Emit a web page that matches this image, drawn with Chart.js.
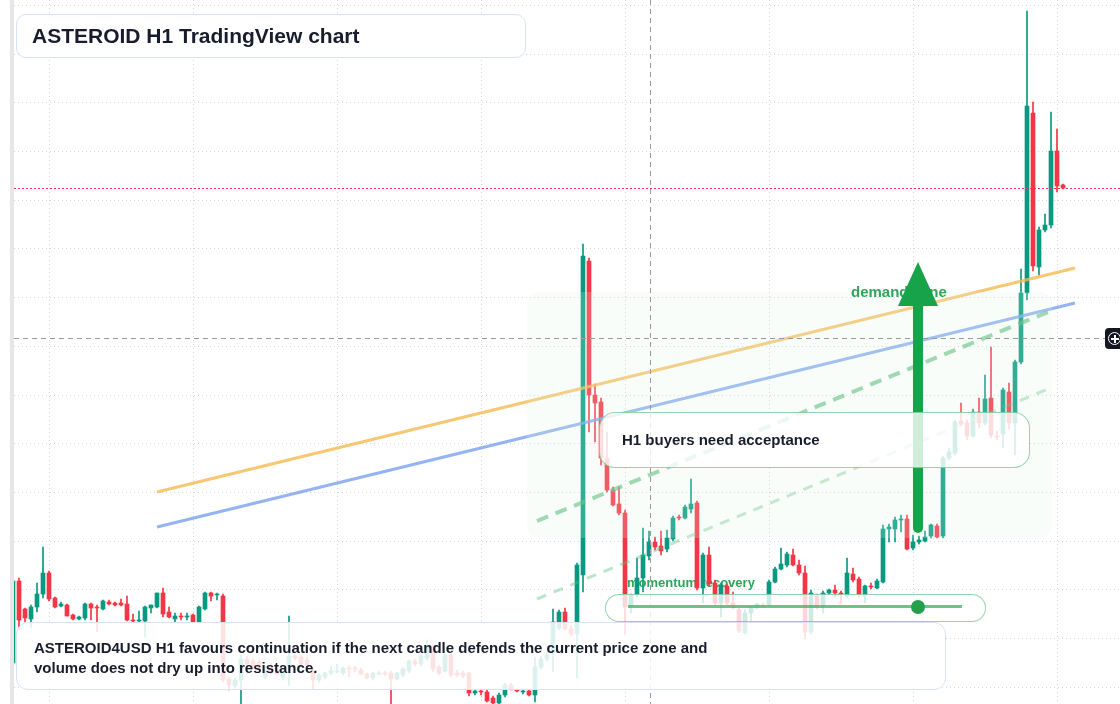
<!DOCTYPE html>
<html>
<head>
<meta charset="utf-8">
<title>ASTEROID H1 TradingView chart</title>
<script src="https://cdn.jsdelivr.net/npm/chart.js@4.4.1/dist/chart.umd.min.js"></script>
<style>
  html, body { margin: 0; padding: 0; background: #fff; }
  body { width: 1120px; height: 704px; position: relative; overflow: hidden; font-family: "Liberation Sans", Arial, sans-serif; }
  #chart { position: absolute; left: 0; top: 0; }
  .strip { position: absolute; left: 10px; top: 0; width: 4px; height: 704px; background: #e6e6e6; }
  .box { position: absolute; box-sizing: border-box; color: #171d2c; font-weight: bold; }
  .title { left: 16px; top: 14px; width: 510px; height: 44px; border: 1.5px solid #d6e3f7; border-radius: 10px;
           background: rgba(255,255,255,0.94); font-size: 21px; line-height: 41px; padding-left: 15px; }
  .note { left: 16px; top: 622px; width: 930px; height: 68px; border: 1.5px solid #d6e3f7; border-radius: 12px;
          background: rgba(255,255,255,0.86); font-size: 15px; line-height: 20px; padding: 15px 0 0 17px; }
  .buyers { left: 599px; top: 412px; width: 431px; height: 56px; border: 1.5px solid rgba(46,170,90,0.5); border-radius: 16px;
            background: rgba(255,255,255,0.8); font-size: 15px; line-height: 53px; padding-left: 22px; }
  .pill { left: 605px; top: 594px; width: 381px; height: 28px; border: 1.5px solid rgba(46,170,90,0.5); border-radius: 14px;
          background: rgba(255,255,255,0.8); }
  .pill .track { position: absolute; left: 22px; top: 10px; width: 334px; height: 3px; background: rgba(60,175,95,0.75); }
  .pill .dot { position: absolute; left: 305px; top: 4.5px; width: 14px; height: 14px; border-radius: 50%; background: #22a04b; }
  .cross { position: absolute; left: 1105px; top: 328px; width: 24px; height: 21px; background: #131722; border-radius: 4px; }
  .cross .ring { position: absolute; left: 3px; top: 3.5px; width: 11px; height: 11px; border: 1.5px solid #fff; border-radius: 50%; }
  .cross .h { position: absolute; left: 6px; top: 10px; width: 8px; height: 1.5px; background: #fff; }
  .cross .v { position: absolute; left: 9.3px; top: 6.5px; width: 1.5px; height: 8px; background: #fff; }
</style>
</head>
<body>
<canvas id="chart" width="1120" height="704"></canvas>
<div class="strip"></div>
<div class="box title">ASTEROID H1 TradingView chart</div>
<div class="box buyers">H1 buyers need acceptance</div>
<div class="box pill"><div class="track"></div><div class="dot"></div></div>
<div class="box note">ASTEROID4USD H1 favours continuation if the next candle defends the current price zone and<br>volume does not dry up into resistance.</div>
<div class="cross"><div class="ring"></div><div class="h"></div><div class="v"></div></div>
<script>
// hourly candles (price in points)
const opens = [337,419,391,381,393,406,427,402,394,395,385,381,382,396,393,391,398,397,397,396,
  380,379,379,392,393,407,388,381,384,383,385,378,391,407,405,404,321,314,320,341,
  339,338,323,334,330,322,333,344,343,340,328,320,323,327,328,327,332,332,330,326,
  322,326,327,327,321,325,329,339,336,342,354,333,329,345,327,327,327,307,309,308,
  302,297,305,315,310,308,309,305,333,341,347,372,388,371,366,425,739,605,598,542,
  510,496,487,393,405,422,444,458,454,451,461,483,482,491,497,412,445,417,397,414,
  397,390,367,387,393,395,395,418,431,435,445,435,427,368,404,393,407,410,407,404,
  426,421,405,414,412,418,471,471,480,481,452,458,459,464,474,464,542,547,579,577,
  564,588,577,602,564,566,608,577,638,707,887,733,770,775,849,815];
const highs = [422,422,392,395,417,453,429,403,398,396,386,384,397,397,395,400,400,398,401,404,
  386,389,394,395,407,412,393,387,387,387,386,394,408,408,407,406,323,322,345,344,
  341,340,333,337,332,332,384,346,345,343,332,327,328,334,336,333,334,334,332,327,
  328,329,329,329,328,333,340,341,346,360,356,335,346,347,330,329,328,311,311,310,
  304,307,317,317,311,310,311,343,344,348,391,390,392,374,437,756,742,616,602,568,
  513,513,490,406,442,472,469,463,469,470,484,485,495,521,499,447,453,420,417,416,
  408,392,390,393,397,397,420,433,452,448,451,440,434,410,406,409,411,415,409,442,
  432,423,415,417,421,475,476,483,485,485,465,464,469,476,476,544,552,580,597,580,
  591,602,625,653,569,612,617,640,731,989,898,773,786,888,871,816];
const lows = [334,370,378,372,388,402,399,392,393,384,380,380,380,380,368,390,395,394,394,379,
  378,378,363,387,392,383,382,378,380,380,377,376,390,399,400,318,310,312,296,334,
  331,330,321,325,324,320,314,340,334,332,311,318,321,325,327,325,323,328,325,321,
  320,325,324,296,320,323,327,334,334,340,328,325,328,323,323,322,304,305,305,298,
  296,296,303,310,308,306,304,298,331,339,328,370,370,364,322,408,568,558,535,508,
  494,485,365,387,403,408,440,450,445,448,459,480,481,487,410,397,414,395,383,395,
  391,367,366,379,391,393,394,417,430,433,434,425,361,366,391,387,405,403,396,402,
  418,403,397,411,411,417,458,458,468,450,450,456,458,462,462,462,540,545,574,560,
  563,572,575,562,560,552,571,545,636,700,729,725,768,772,808,811];
const closes = [419,380,382,393,406,427,401,393,396,384,381,383,396,392,392,399,396,395,395,380,
  379,380,393,395,407,386,383,384,383,384,378,393,407,404,406,320,315,320,341,336,
  333,332,330,327,326,328,344,342,336,334,320,325,327,329,329,332,331,331,326,322,
  327,327,326,321,327,331,339,336,344,354,331,327,345,325,325,324,307,309,308,299,
  297,305,315,311,309,309,305,333,341,345,378,388,371,366,435,744,605,597,542,510,
  495,487,393,405,422,445,458,453,449,462,482,482,493,496,412,445,417,397,415,397,
  392,369,387,392,396,394,418,431,436,446,435,427,368,407,393,407,410,407,406,427,
  420,405,414,413,419,471,473,480,481,451,458,460,463,475,463,542,548,578,576,564,
  588,577,601,565,563,610,577,638,707,894,734,770,775,849,814,812];

// time axis: 176 hourly bars plus right margin
const barCount = 185;
const labels = [];
for (let i = 0; i < barCount; i++) {
	const h = (18 + i) % 24;
	labels.push((h < 10 ? "0" : "") + h + ":00");
}
const dayBars = [6, 30, 54, 78, 102, 126, 150, 174];
const priceGridBase = 312.8;
const priceGridStep = 48.7;

// drawings (bar index, price)
const orangeTrend = [{ x: 24, y: 508 }, { x: 177, y: 732 }];
const blueTrend = [{ x: 24, y: 473 }, { x: 177, y: 697 }];
const channelUpper = [{ x: 87.33, y: 479 }, { x: 172.5, y: 688 }];
const channelLower = [{ x: 87.33, y: 401 }, { x: 172.5, y: 611 }];
const demandZone = { x1: 85.67, x2: 173.17, top: 708, bottom: 462 };
const demandArrow = { x: 150.83, tail: 472, tip: 738 };
const demandLabel = { x: 139.67, y: 707 };
const momentumLabel = { x: 102.33, y: 417 };
const crosshair = { x: 106.17, y: 662 };

const GREEN = "#089981";
const RED = "#f23645";
const candleColors = opens.map((o, i) => (closes[i] >= o ? GREEN : RED));

const overlay = {
	id: "overlay",
	beforeDatasetsDraw(chart) {
		const { ctx } = chart;
		const xl = chart.scales.xl, y = chart.scales.y;
		ctx.save();
		ctx.font = 'bold 13px "Liberation Sans", Arial, sans-serif';
		ctx.fillStyle = "#2ea65a";
		ctx.textBaseline = "middle";
		ctx.fillText("momentum recovery", xl.getPixelForValue(momentumLabel.x), y.getPixelForValue(momentumLabel.y));
		ctx.restore();
	},
	afterDatasetsDraw(chart) {
		const { ctx, chartArea } = chart;
		const xl = chart.scales.xl, y = chart.scales.y;
		ctx.save();
		// demand zone
		const zx1 = xl.getPixelForValue(demandZone.x1), zx2 = xl.getPixelForValue(demandZone.x2);
		const zy1 = y.getPixelForValue(demandZone.top), zy2 = y.getPixelForValue(demandZone.bottom);
		ctx.fillStyle = "rgba(225,245,232,0.2)";
		ctx.beginPath();
		ctx.roundRect(zx1, zy1, zx2 - zx1, zy2 - zy1, 12);
		ctx.fill();
		// last price line
		const lastY = Math.round(y.getPixelForValue(closes[closes.length - 1])) + 0.5;
		ctx.strokeStyle = RED;
		ctx.lineWidth = 1;
		ctx.setLineDash([2, 2]);
		ctx.beginPath();
		ctx.moveTo(chartArea.left + 4, lastY);
		ctx.lineTo(chartArea.right, lastY);
		ctx.stroke();
		// crosshair
		const cx = Math.round(xl.getPixelForValue(crosshair.x)) + 0.5;
		const cy = Math.round(y.getPixelForValue(crosshair.y)) + 0.5;
		ctx.strokeStyle = "#9a9a9a";
		ctx.setLineDash([5, 4]);
		ctx.beginPath();
		ctx.moveTo(cx, chartArea.top);
		ctx.lineTo(cx, chartArea.bottom);
		ctx.moveTo(chartArea.left + 4, cy);
		ctx.lineTo(chartArea.right, cy);
		ctx.stroke();
		ctx.setLineDash([]);
		// demand zone label
		ctx.font = 'bold 15px "Liberation Sans", Arial, sans-serif';
		ctx.fillStyle = "#2ea65a";
		ctx.textBaseline = "middle";
		ctx.fillText("demand zone", xl.getPixelForValue(demandLabel.x), y.getPixelForValue(demandLabel.y));
		// arrow
		const ax = xl.getPixelForValue(demandArrow.x);
		const yTip = y.getPixelForValue(demandArrow.tip);
		const yTail = y.getPixelForValue(demandArrow.tail);
		ctx.strokeStyle = "#17a34a";
		ctx.fillStyle = "#17a34a";
		ctx.lineWidth = 10;
		ctx.lineCap = "round";
		ctx.beginPath();
		ctx.moveTo(ax, yTail);
		ctx.lineTo(ax, yTip + 40);
		ctx.stroke();
		ctx.beginPath();
		ctx.moveTo(ax, yTip);
		ctx.lineTo(ax - 20, yTip + 44);
		ctx.lineTo(ax + 20, yTip + 44);
		ctx.closePath();
		ctx.fill();
		ctx.restore();
	},
};

new Chart(document.getElementById("chart"), {
	type: "bar",
	data: {
		labels: labels,
		datasets: [
			{
				label: "wick",
				data: lows.map((l, i) => [l, highs[i]]),
				backgroundColor: candleColors,
				barThickness: 1,
				grouped: false,
				minBarLength: 1,
				order: 4,
			},
			{
				label: "body",
				data: opens.map((o, i) => [o, closes[i]]),
				backgroundColor: candleColors,
				barThickness: 4,
				grouped: false,
				minBarLength: 1,
				order: 3,
			},
			{
				type: "line",
				label: "channel lower",
				xAxisID: "xl",
				data: channelLower,
				borderColor: "rgba(90,190,120,0.4)",
				borderWidth: 3,
				borderDash: [10, 8],
				pointRadius: 0,
				order: 2,
			},
			{
				type: "line",
				label: "channel upper",
				xAxisID: "xl",
				data: channelUpper,
				borderColor: "rgba(80,185,115,0.65)",
				borderWidth: 4,
				borderDash: [12, 8],
				pointRadius: 0,
				order: 2,
			},
			{
				type: "line",
				label: "blue trend",
				xAxisID: "xl",
				data: blueTrend,
				borderColor: "rgba(120,160,240,0.8)",
				borderWidth: 3,
				pointRadius: 0,
				order: 1,
			},
			{
				type: "line",
				label: "orange trend",
				xAxisID: "xl",
				data: orangeTrend,
				borderColor: "rgba(245,185,80,0.8)",
				borderWidth: 3,
				pointRadius: 0,
				order: 0,
			},
		],
	},
	plugins: [overlay],
	options: {
		responsive: false,
		animation: false,
		devicePixelRatio: 1,
		layout: { padding: { left: 10, right: 0, top: 0, bottom: 0 } },
		plugins: {
			legend: { display: false },
			tooltip: { enabled: false },
		},
		scales: {
			x: {
				type: "category",
				display: false,
				offset: true,
			},
			xl: {
				type: "linear",
				position: "bottom",
				offset: false,
				min: -0.5,
				max: barCount - 0.5,
				afterBuildTicks: (axis) => {
					axis.ticks = dayBars.map((v) => ({ value: v }));
				},
				ticks: { display: false },
				grid: { color: "#d4d4d4", drawTicks: false, offset: false },
				border: { display: false, dash: [1, 3] },
			},
			y: {
				min: 296,
				max: 1000,
				afterBuildTicks: (axis) => {
					const t = [];
					for (let v = priceGridBase; v < 1000; v += priceGridStep) t.push({ value: v });
					axis.ticks = t;
				},
				ticks: { display: false },
				grid: { color: "#d4d4d4", drawTicks: false },
				border: { display: false, dash: [1, 3] },
			},
		},
	},
});
</script>
</body>
</html>
